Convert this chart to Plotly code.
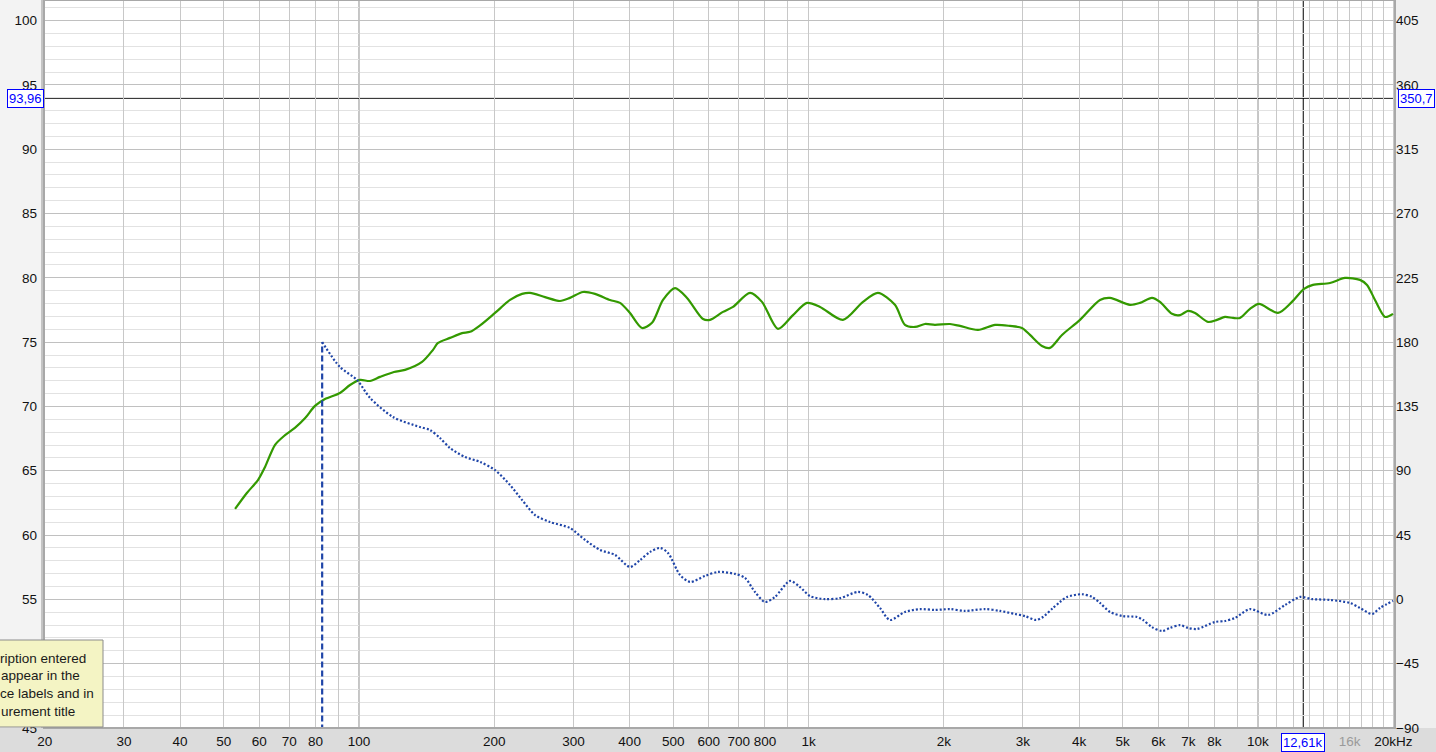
import math
import plotly.graph_objects as go

# ---------------- data ----------------
spl_freq = [53.0, 56.3, 59.6, 61.8, 65.0, 68.1, 72.0, 75.9, 79.8, 84.0, 90.7, 95.5,
            100.5, 105.8, 111.4, 119.6, 126.6, 138.1, 146.1, 149.9, 159.4, 169.5, 176.6,
            185.9, 200.7, 216.8, 230.5, 240.2, 259.3, 280.0, 294.7, 315.0, 335.0, 361.7,
            380.8, 400.7, 426.3, 448.6, 474.6, 504.7, 536.7, 582.6, 603.8, 645.3, 679.3,
            741.1, 788.0, 855.4, 923.6, 992.3, 1061, 1193, 1322, 1427, 1557, 1639, 1726,
            1816, 1911, 2064, 2173, 2383, 2600, 2807, 2985, 3110, 3307, 3445, 3664, 4018,
            4451, 4685, 5190, 5464, 5810, 6053, 6436, 6706, 6987, 7244, 7741, 8107, 8446,
            8800, 9120, 9599, 10050, 11080, 11900, 12660, 13250, 14460, 15610, 16860,
            17480, 18210, 19170, 19970]
spl_db = [62.03, 63.27, 64.28, 65.3, 67.0, 67.7, 68.33, 69.1, 70.04, 70.58, 71.05, 71.67,
          72.06, 71.98, 72.3, 72.68, 72.84, 73.46, 74.4, 74.94, 75.33, 75.7, 75.8,
          76.3, 77.27, 78.28, 78.75, 78.83, 78.5, 78.2, 78.44, 78.9, 78.75, 78.28,
          78.05, 77.27, 76.1, 76.5, 78.28, 79.2, 78.44, 76.8, 76.73, 77.35, 77.74,
          78.83, 78.13, 76.03, 77.1, 78.05, 77.74, 76.73, 78.13, 78.83, 77.9, 76.34, 76.18,
          76.41, 76.34, 76.41, 76.26, 75.95, 76.34, 76.26, 76.1, 75.56, 74.7, 74.55, 75.56, 76.73,
          78.28, 78.44, 77.9, 78.05, 78.44, 78.13, 77.2, 77.1, 77.43, 77.27, 76.57, 76.73, 76.96,
          76.88, 76.88, 77.58, 77.97, 77.27, 78.13, 79.14, 79.45, 79.6, 79.99, 79.84,
          79.45, 78.28, 76.96, 77.2]

phase_freq = [82.8, 90.7, 99.0, 105.8, 119.0, 136.7, 143.9, 151.4, 159.4, 172.2, 185.9,
              200.7, 216.8, 230.5, 246.4, 266.1, 294.7, 318.3, 343.7, 371.1, 400.7, 421.9,
              444.0, 467.3, 486.8, 517.8, 545.0, 588.6, 629.0, 686.3, 722.3, 760.3, 800.2,
              842.2, 909.7, 957.4, 1008, 1088, 1175, 1289, 1357, 1442, 1518, 1639, 1770,
              1911, 2064, 2229, 2470, 2668, 2880, 3031, 3207, 3324, 3499, 3627, 3759, 4059,
              4273, 4451, 4685, 5008, 5381, 5549, 5810, 6116, 6371, 6706, 6987, 7318, 8024,
              8446, 8890, 9599, 10530, 11480, 12400, 13190, 14460, 16020, 16860, 17930,
              18680, 19970]
phase_deg = [180, 162.6, 153.5, 141, 127.6, 120.6, 118.5, 112.9, 105.9, 99.6, 96.2,
             90.5, 80, 69.6, 59, 54.1, 49.9, 41.6, 34.6, 31.1, 22.7, 27.5,
             33.2, 36.0, 32.5, 17.1, 12.2, 16.4, 19.2, 17.8, 15, 5.2, -1.8,
             1.7, 12.9, 8.6, 2.3, 0.2, 0.9, 5.2, 3, -6, -14.4, -8.8, -6.8,
             -7.4, -6.8, -8.1, -6.8, -8.1, -10.2, -11.7, -14.4, -12.3, -6, -1.8, 1.7, 3.6,
             1.7, -2.5, -8.8, -11.7, -12.3, -14.4, -19.4, -22.1, -20, -18, -20, -20.7, -15.8,
             -15.1, -13, -6.8, -10.9, -4, 1.7, 0.2, -0.4, -2.5, -6, -10.2,
             -6, -1]

wrap_freq = [82.8, 82.8]
wrap_deg = [-180, 180]

cursor_freq = 12610
cursor_db = 93.96
cursor_deg = 350.7

x_grid = [20, 30, 40, 50, 60, 70, 80, 90,
          100, 200, 300, 400, 500, 600, 700, 800, 900,
          1000, 2000, 3000, 4000, 5000, 6000, 7000, 8000, 9000,
          10000, 11000, 12000, 13000, 14000, 15000, 16000, 17000, 18000, 19000, 20000]
x_text = ["20", "30", "40", "50", "60", "70", "80", "",
          "100", "200", "300", "400", "500", "600", "700", "800", "",
          "1k", "2k", "3k", "4k", "5k", "6k", "7k", "8k", "",
          "10k", "", "", "", "", "", "<span style='color:#9a9a9a'>16k</span>", "", "", "", "20kHz"]
decades = [100, 1000, 10000]

y_left_ticks = [45, 50, 55, 60, 65, 70, 75, 80, 85, 90, 95, 100]
y_left_text = ["45", "", "55", "60", "65", "70", "75", "80", "85", "90", "95", "100"]  # 50 hidden by the tooltip
y_right_ticks = [-90, -45, 0, 45, 90, 135, 180, 225, 270, 315, 360, 405]

tooltip_lines = ["ription entered", "appear in the", "ce labels and in", "urement title"]

# ---------------- figure ----------------
W, H = 1436, 752
L, R, T, B = 44, 41, 0, 24
pw, ph = W - L - R, H - T - B

def px_x(p):
    return (p - L) / pw

def px_y(p):
    return (H - B - p) / ph

fig = go.Figure()

fig.add_trace(go.Scatter(x=spl_freq, y=spl_db, mode="lines", line=dict(color="#339900", width=2.2, shape="spline", smoothing=0.8),
                         yaxis="y", showlegend=False, hoverinfo="skip"))
fig.add_trace(go.Scatter(x=phase_freq, y=phase_deg, mode="lines",
                         line=dict(color="#1f45a8", width=2.2, dash="2px,2px", shape="spline", smoothing=0.8),
                         yaxis="y2", showlegend=False, hoverinfo="skip"))
fig.add_trace(go.Scatter(x=wrap_freq, y=wrap_deg, mode="lines",
                         line=dict(color="#1f45a8", width=2.2, dash="6px,3px"),
                         yaxis="y2", showlegend=False, hoverinfo="skip"))

shapes = []
# left / bottom margin backgrounds
shapes.append(dict(type="rect", xref="paper", yref="paper", x0=px_x(0), x1=px_x(L), y0=px_y(H - B), y1=px_y(0),
                   fillcolor="#f3f3f3", line=dict(width=0), layer="below"))
shapes.append(dict(type="rect", xref="paper", yref="paper", x0=px_x(0), x1=px_x(W), y0=px_y(H), y1=px_y(H - B),
                   fillcolor="#dcdcdc", line=dict(width=0), layer="below"))
# decade lines
for d in decades:
    shapes.append(dict(type="line", xref="x", yref="paper", x0=d, x1=d, y0=0, y1=1,
                       line=dict(color="#8a8a8a", width=1), layer="between"))
# cursor lines
shapes.append(dict(type="line", xref="paper", yref="y", x0=0, x1=1, y0=cursor_db, y1=cursor_db,
                   line=dict(color="#000000", width=1), layer="between"))
shapes.append(dict(type="line", xref="x", yref="paper", x0=cursor_freq, x1=cursor_freq, y0=0, y1=1,
                   line=dict(color="#000000", width=1), layer="between"))
# plot frame
shapes.append(dict(type="rect", xref="paper", yref="paper", x0=0, x1=1, y0=0, y1=1,
                   line=dict(color="#a8a8a8", width=2), layer="above"))
shapes.append(dict(type="line", xref="paper", yref="paper", x0=px_x(42), x1=px_x(42), y0=0, y1=1,
                   line=dict(color="#c4c4c4", width=2), layer="above"))
# tooltip box
shapes.append(dict(type="rect", xref="paper", yref="paper", x0=px_x(-10), x1=px_x(103), y0=px_y(727), y1=px_y(640),
                   fillcolor="#f4f4c4", line=dict(color="#8c8c8c", width=1), layer="above"))

annotations = []
box_font = dict(family="Liberation Sans, Arial, sans-serif", size=13, color="#0000ff")
annotations.append(dict(xref="paper", yref="y", x=px_x(25), y=cursor_db, text="93,96", showarrow=False,
                        xanchor="center", yanchor="middle",
                        font=box_font, bgcolor="#ffffff", bordercolor="#0000ff", borderwidth=1, borderpad=1))
annotations.append(dict(xref="paper", yref="y", x=px_x(1416), y=cursor_db, text="350,7", showarrow=False,
                        xanchor="center", yanchor="middle",
                        font=box_font, bgcolor="#ffffff", bordercolor="#0000ff", borderwidth=1, borderpad=1))
annotations.append(dict(xref="x", yref="paper", x=math.log10(cursor_freq), y=px_y(742), text="12,61k", showarrow=False,
                        xanchor="center", yanchor="middle",
                        font=box_font, bgcolor="#ffffff", bordercolor="#0000ff", borderwidth=1, borderpad=1))
tip_y = [658, 675, 693, 711]
tip_x = [-2, -1, -2, -1]
for t, yy, xx in zip(tooltip_lines, tip_y, tip_x):
    annotations.append(dict(xref="paper", yref="paper", x=px_x(xx), y=px_y(yy), text=t, showarrow=False,
                            xanchor="left", yanchor="middle",
                            font=dict(family="Liberation Sans, Arial, sans-serif", size=13.5, color="#1a1a1a")))

tick_font = dict(family="Liberation Sans, Arial, sans-serif", size=13.5, color="#111111")

fig.update_layout(
    width=W, height=H,
    margin=dict(l=L, r=R, t=T, b=B, pad=0, autoexpand=False),
    paper_bgcolor="#efefef",
    plot_bgcolor="#ffffff",
    showlegend=False,
    shapes=shapes,
    annotations=annotations,
    xaxis=dict(type="log", range=[1.2992, 4.3048], tickmode="array", tickvals=x_grid, ticktext=x_text,
               showgrid=True, gridcolor="#c8c8c8", gridwidth=1, zeroline=False, showline=False,
               ticks="", tickfont=tick_font, ticklabelstandoff=3, fixedrange=True, automargin=False),
    yaxis=dict(range=[45, 101.6], tickmode="array", tickvals=y_left_ticks, ticktext=y_left_text,
               showgrid=True, gridcolor="#c0c0c0", gridwidth=1, zeroline=False, showline=False,
               ticks="", tickfont=tick_font, ticklabelstandoff=6,
               minor=dict(dtick=1, showgrid=True, gridcolor="#e2e2e2", gridwidth=1, ticks=""),
               fixedrange=True, automargin=False),
    yaxis2=dict(range=[-90, 419.4], overlaying="y", side="right", tickmode="array", tickvals=y_right_ticks,
                showgrid=False, zeroline=False, showline=False, ticks="", tickfont=tick_font,
                fixedrange=True, automargin=False),
)

fig.write_html("out.html", config={"displayModeBar": False},
               post_script="document.body.style.margin='0';document.body.style.overflow='hidden';")
